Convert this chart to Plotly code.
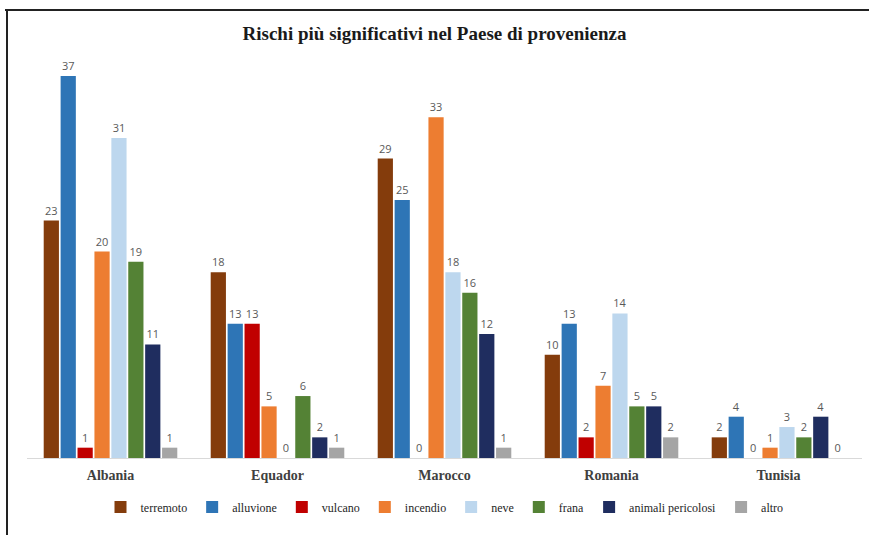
import plotly.graph_objects as go

categories = ["Albania", "Equador", "Marocco", "Romania", "Tunisia"]
series_names = ["terremoto", "alluvione", "vulcano", "incendio", "neve", "frana", "animali pericolosi", "altro"]
terremoto = [23, 18, 29, 10, 2]
alluvione = [37, 13, 25, 13, 4]
vulcano = [1, 13, 0, 2, 0]
incendio = [20, 5, 33, 7, 1]
neve = [31, 0, 18, 14, 3]
frana = [19, 6, 16, 5, 2]
animali = [11, 2, 12, 5, 4]
altro = [1, 1, 1, 2, 0]
series_values = [terremoto, alluvione, vulcano, incendio, neve, frana, animali, altro]
colors = ["#843C0C", "#2E75B6", "#C00000", "#ED7D31", "#BDD7EE", "#548235", "#1F2D5F", "#A5A5A5"]

W, H = 869, 535
ML, MR, MT, MB = 27, 7, 45, 77

label_font = dict(family="Open Sans, sans-serif", size=11, color="#595959")

fig = go.Figure()
for name, vals, col in zip(series_names, series_values, colors):
    fig.add_trace(go.Bar(
        name=name, x=categories, y=vals, marker=dict(color=col, line=dict(width=0)),
        text=[str(v) for v in vals], textposition="outside",
        textfont=label_font, outsidetextfont=label_font,
        cliponaxis=False,
    ))

pw = W - ML - MR
ph = H - MT - MB
def px_x(p):
    return (p - ML) / pw
def px_y(p):
    return (H - MB - p) / ph

fig.update_layout(
    width=W, height=H,
    margin=dict(l=ML, r=MR, t=MT, b=MB),
    paper_bgcolor="white", plot_bgcolor="white",
    barmode="group", bargap=0.19, bargroupgap=0.1,
    title=dict(text="<b>Rischi più significativi nel Paese di provenienza</b>",
               x=0.5, xanchor="center", y=1 - 33 / H, yanchor="middle",
               font=dict(family="Liberation Serif, serif", size=19, color="#1a1a1a")),
    xaxis=dict(showline=True, linecolor="#d9d9d9", linewidth=1, ticks="", showgrid=False,
               tickfont=dict(family="Liberation Serif, serif", size=14, color="#404040", weight="bold"),
               ticklabelstandoff=4),
    yaxis=dict(range=[0, 40], visible=False, showgrid=False, zeroline=False),
    legend=dict(orientation="h", x=0.5, xanchor="center", y=px_y(507), yanchor="middle",
                font=dict(family="Liberation Serif, serif", size=12, color="#262626"),
                itemwidth=30, tracegroupgap=0, traceorder="normal"),
    showlegend=True,
    shapes=[
        dict(type="line", xref="paper", yref="paper", x0=px_x(5), x1=px_x(869), y0=px_y(10), y1=px_y(10),
             line=dict(color="#222222", width=2)),
        dict(type="line", xref="paper", yref="paper", x0=px_x(7), x1=px_x(7), y0=px_y(10), y1=px_y(535),
             line=dict(color="#222222", width=2)),
    ],
)

fig.write_html("out.html")
